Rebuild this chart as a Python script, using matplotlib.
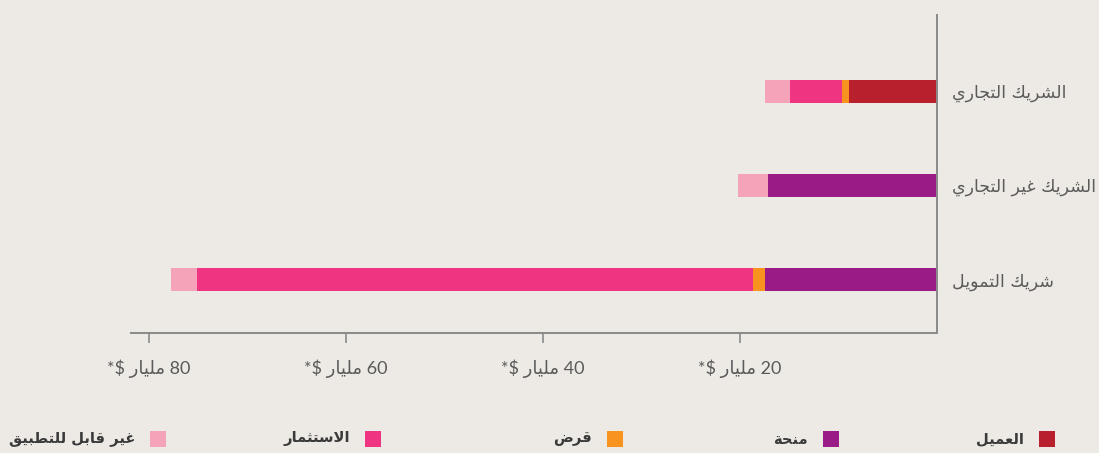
import matplotlib.pyplot as plt
from matplotlib.patches import Rectangle

# Data (billions of USD), categories listed bottom to top
categories = ['شريك التمويل', 'الشريك غير التجاري', 'الشريك التجاري']
series = ['العميل', 'منحة', 'قرض', 'الاستثمار', 'غير قابل للتطبيق']
colors = ['#B8202E', '#9B1B86', '#F7931E', '#EF3581', '#F5A3B9']
client = [0, 0, 8.9]
grant = [17.5, 17.2, 0]
loan = [1.15, 0, 0.7]
investment = [56.5, 0, 5.3]
not_applicable = [2.6, 3.0, 2.6]
ticks = [20, 40, 60, 80]

# matplotlib has no Arabic shaping, so map letters to presentation forms
# (isolated code point, number of forms) -- 4 forms = joins both sides
FORMS = {
    'ا': (0xFE8D, 2), 'ب': (0xFE8F, 4), 'ة': (0xFE93, 2), 'ت': (0xFE95, 4),
    'ث': (0xFE99, 4), 'ج': (0xFE9D, 4), 'ح': (0xFEA1, 4), 'خ': (0xFEA5, 4),
    'د': (0xFEA9, 2), 'ذ': (0xFEAB, 2), 'ر': (0xFEAD, 2), 'ز': (0xFEAF, 2),
    'س': (0xFEB1, 4), 'ش': (0xFEB5, 4), 'ص': (0xFEB9, 4), 'ض': (0xFEBD, 4),
    'ط': (0xFEC1, 4), 'ظ': (0xFEC5, 4), 'ع': (0xFEC9, 4), 'غ': (0xFECD, 4),
    'ف': (0xFED1, 4), 'ق': (0xFED5, 4), 'ك': (0xFED9, 4), 'ل': (0xFEDD, 4),
    'م': (0xFEE1, 4), 'ن': (0xFEE5, 4), 'ه': (0xFEE9, 4), 'و': (0xFEED, 2),
    'ى': (0xFEEF, 2), 'ي': (0xFEF1, 4),
}


def ar(text):
    out = []
    i = 0
    while i < len(text):
        c = text[i]
        if c not in FORMS:
            out.append(c)
            i += 1
            continue
        prev = text[i - 1] if i > 0 else ''
        joins_prev = prev in FORMS and FORMS[prev][1] == 4
        if c == 'ل' and i + 1 < len(text) and text[i + 1] == 'ا':
            out.append(chr(0xFEFC if joins_prev else 0xFEFB))
            i += 2
            continue
        start, n = FORMS[c]
        nxt = text[i + 1] if i + 1 < len(text) else ''
        joins_next = n == 4 and nxt in FORMS
        if joins_prev and joins_next:
            out.append(chr(start + 3))
        elif joins_prev:
            out.append(chr(start + 1))
        elif joins_next:
            out.append(chr(start + 2))
        else:
            out.append(chr(start))
        i += 1
    return ''.join(out)[::-1]


bg = '#EDEAE5'
axis_col = '#8A8A8A'
text_col = '#5A5A5A'

fig = plt.figure(figsize=(10.99, 4.53), dpi=100, facecolor=bg)
ax = fig.add_axes([131 / 1099, 120 / 453, 806 / 1099, 318 / 453])
ax.set_facecolor(bg)

y = list(range(len(categories)))
left = [0] * len(categories)
for vals, col in zip([client, grant, loan, investment, not_applicable], colors):
    ax.barh(y, vals, left=left, height=0.245, color=col, linewidth=0)
    left = [a + b for a, b in zip(left, vals)]

ax.set_xlim(81.8, 0)
ax.set_ylim(-0.57, 2.81)

for s in ['top', 'left']:
    ax.spines[s].set_visible(False)
for s in ['bottom', 'right']:
    ax.spines[s].set_color(axis_col)
    ax.spines[s].set_linewidth(1.4)

ax.set_xticks(ticks)
ax.set_xticklabels(['*$ ' + ar('مليار') + f' {t}' for t in ticks],
                   family=['Lato', 'DejaVu Sans'], fontsize=13, color=text_col)
ax.tick_params(axis='x', length=7, width=1.2, color=axis_col, pad=12)

ax.yaxis.tick_right()
ax.set_yticks(y)
ax.set_yticklabels([ar(c) for c in categories], fontsize=12.5, color=text_col)
ax.tick_params(axis='y', length=0, pad=11)

# Legend along the bottom, laid out right to left
sq_left = [1039, 823, 607, 365, 150]
for name, col, x0 in zip(series, colors, sq_left):
    fig.add_artist(Rectangle((x0 / 1099, 6 / 453), 16 / 1099, 16 / 453,
                             transform=fig.transFigure, color=col, lw=0))
    fig.text((x0 - 15) / 1099, 14 / 453, ar(name), ha='right', va='center',
             fontsize=10.6, fontweight='bold', color='#3A3A3A')

fig.savefig('out.png', dpi=100, facecolor=bg)
